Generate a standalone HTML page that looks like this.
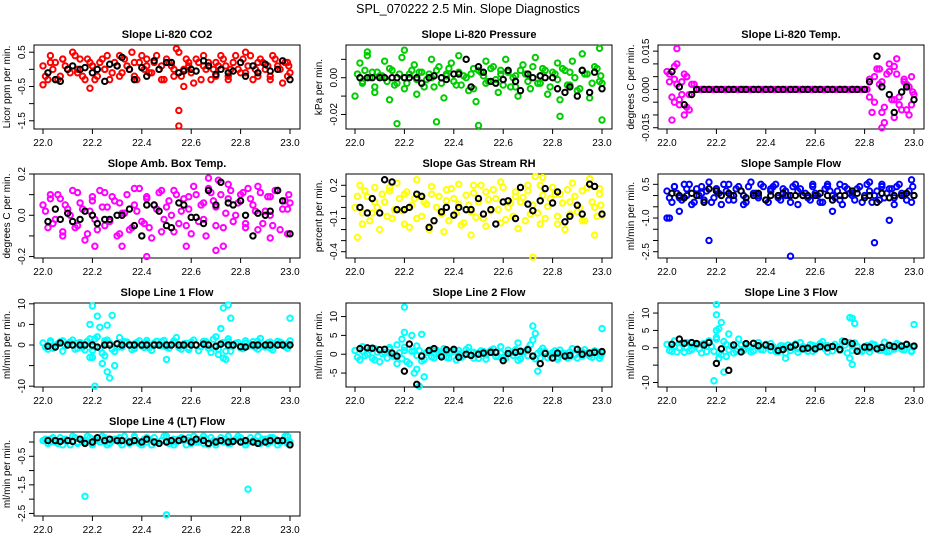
<!DOCTYPE html>
<html><head><meta charset="utf-8"><style>
html,body{margin:0;padding:0;background:#fff;}
svg{display:block;font-family:"Liberation Sans",Arial,sans-serif;}
</style></head><body>
<svg id="chart" width="936" height="540" viewBox="0 0 936 540" xmlns="http://www.w3.org/2000/svg">
<rect width="936" height="540" fill="#fff"/>
<text x="468" y="13" text-anchor="middle" font-size="12.5">SPL_070222  2.5 Min. Slope Diagnostics</text>
</svg>
<script>
const tC=[22.00,22.02,22.03,22.05,22.07,22.08,22.10,22.12,22.14,22.15,22.17,22.19,22.20,22.22,22.24,22.25,22.27,22.29,22.31,22.32,22.34,22.36,22.37,22.39,22.41,22.42,22.44,22.46,22.48,22.49,22.51,22.53,22.54,22.56,22.58,22.59,22.61,22.63,22.65,22.66,22.68,22.70,22.71,22.73,22.75,22.76,22.78,22.80,22.82,22.83,22.85,22.87,22.88,22.90,22.92,22.93,22.95,22.97,22.99,23.00];
const tC2=[22.01,22.03,22.04,22.06,22.08,22.09,22.11,22.13,22.14,22.16,22.18,22.20,22.21,22.23,22.25,22.26,22.28,22.30,22.31,22.33,22.35,22.37,22.38,22.40,22.42,22.43,22.45,22.47,22.48,22.50,22.52,22.53,22.55,22.57,22.59,22.60,22.62,22.64,22.65,22.67,22.69,22.70,22.72,22.74,22.75,22.77,22.79,22.81,22.82,22.84,22.86,22.87,22.89,22.91,22.92,22.94,22.96,22.98,22.99,22.995];
const tK=[22.02,22.05,22.07,22.10,22.12,22.15,22.17,22.20,22.22,22.25,22.27,22.30,22.32,22.35,22.37,22.40,22.42,22.45,22.47,22.50,22.52,22.55,22.57,22.60,22.62,22.65,22.67,22.70,22.72,22.75,22.77,22.80,22.82,22.85,22.87,22.90,22.92,22.95,22.97,23.00];
const xTicks=[22.0,22.2,22.4,22.6,22.8,23.0];

const co2C=[0.1,-0.3,0.4,0.2,-0.2,0.3,0.0,0.5,-0.1,0.3,-0.3,0.2,0.1,-0.2,0.3,0.0,-0.3,0.2,0.4,-0.1,0.1,0.5,-0.2,0.2,0.0,0.3,-0.1,0.4,0.1,-0.3,0.2,0.0,0.6,-0.2,0.3,0.1,-0.4,0.2,0.4,0.0,-0.3,0.2,0.1,0.3,-0.2,0.0,0.4,-0.1,0.5,0.1,-0.3,0.2,0.3,0.0,-0.2,0.4,0.1,-0.4,0.2,-0.1];
const co2C2=[-0.2,0.2,0.0,-0.3,0.3,0.1,-0.1,0.4,0.0,-0.2,0.3,0.1,-0.3,0.2,0.0,0.4,-0.1,0.1,-0.2,0.3,0.0,0.2,-0.3,0.4,0.1,-0.1,0.2,0.0,-0.3,0.3,0.1,-0.2,0.5,0.0,0.2,-0.1,0.3,-0.3,0.1,0.2,0.0,-0.2,0.4,0.1,-0.3,0.2,0.0,0.3,-0.1,0.4,0.0,-0.2,0.2,0.1,-0.3,0.3,0.0,0.2,-0.2,0.1];
const co2OutT=[22.55,22.55,22.00,22.19,22.57];
const co2OutV=[-1.2,-1.65,-0.45,-0.55,-0.5];
const co2K=[-0.1,-0.3,-0.35,0.0,0.1,0.0,0.05,-0.1,0.0,-0.35,0.15,0.1,0.35,0.0,-0.3,0.05,-0.2,0.25,0.0,0.2,0.2,-0.1,-0.05,0.0,-0.05,0.25,0.1,-0.15,0.0,-0.1,-0.05,0.2,-0.2,0.1,-0.1,0.15,-0.05,0.0,0.25,-0.3];

const presC=[-0.01,0.008,-0.002,0.012,0.003,-0.008,0.001,0.009,-0.012,0.004,-0.003,0.011,-0.006,0.002,0.007,-0.009,0.003,-0.001,0.010,-0.005,0.006,-0.011,0.002,0.008,-0.004,0.012,0.001,-0.007,0.005,-0.013,0.003,0.009,-0.002,0.006,-0.008,0.004,0.010,-0.005,0.001,-0.010,0.007,0.002,-0.006,0.011,-0.003,0.005,-0.009,0.003,0.008,-0.012,0.004,-0.004,0.009,-0.007,0.013,0.002,-0.011,0.006,0.016,-0.003];
const presC2=[0.002,-0.003,0.004,0.0,-0.005,0.003,0.001,-0.002,0.005,-0.004,0.002,0.0,-0.003,0.004,-0.001,0.003,-0.005,0.002,0.0,0.004,-0.003,0.001,0.005,-0.002,0.003,-0.004,0.0,0.002,-0.006,0.004,0.001,-0.003,0.005,-0.001,0.002,-0.004,0.003,0.0,-0.005,0.004,0.002,-0.002,0.006,-0.003,0.001,0.004,-0.005,0.002,-0.001,0.005,-0.004,0.003,0.0,-0.006,0.004,0.002,-0.003,0.005,-0.002,0.001];
const presOutT=[22.17,22.33,22.50,22.83,23.00,22.05,22.20];
const presOutV=[-0.025,-0.024,-0.026,-0.021,-0.023,0.014,0.015];
const presK=[0,0,0,0,0,0,0,0,0,0,-0.003,0,0.001,0,-0.001,0.002,0.002,0.01,-0.005,0.006,0.003,-0.002,-0.003,-0.001,0.004,-0.002,-0.007,0.002,0,0.001,0,0,-0.006,-0.008,-0.005,-0.01,0.004,-0.008,0.003,-0.006];

const tempC=[0.007,-0.012,0.004,-0.004,0.006,-0.007,0.002,0,0,0,0,0,0,0,0,0,0,0,0,0,0,0,0,0,0,0,0,0,0,0,0,0,0,0,0,0,0,0,0,0,0,0,0,0,0,0,0,0,0.004,-0.009,0.008,0.003,-0.013,0.01,-0.004,0.006,-0.008,0.002,-0.006,-0.002];
const tempC2=[0.003,-0.005,0.01,-0.002,0.005,-0.008,0.002,0,0,0,0,0,0,0,0,0,0,0,0,0,0,0,0,0,0,0,0,0,0,0,0,0,0,0,0,0,0,0,0,0,0,0,0,0,0,0,0,0,-0.003,0.005,0.002,-0.009,0.006,-0.004,0.009,-0.006,0.003,-0.01,0.005,-0.001];
const tempOutT=[22.01,22.02,22.03,22.04,22.05,22.06,22.07,22.08,22.09,22.84,22.86,22.88,22.90,22.92,22.93,22.94,22.96,22.97,22.98,22.87,22.04];
const tempOutV=[0.006,-0.003,0.009,0.002,-0.006,0.003,-0.01,0.005,-0.002,-0.005,0.008,-0.007,0.007,-0.011,0.012,-0.003,0.004,-0.008,0.001,-0.015,0.016];
const tempK=[0.007,0.001,-0.006,-0.002,0,0,0,0,0,0,0,0,0,0,0,0,0,0,0,0,0,0,0,0,0,0,0,0,0,0,0,0,0.003,0.013,0.001,-0.002,-0.009,-0.001,0.001,-0.004];

const ambC=[0.05,-0.06,0.1,-0.02,0.08,-0.1,0.03,0.12,-0.05,0.06,-0.12,0.02,0.09,-0.07,0.04,0.11,-0.03,0.07,-0.09,0.01,0.1,-0.06,0.05,0.13,-0.04,0.08,-0.11,0.03,0.12,-0.02,0.07,-0.08,0.1,0.02,-0.05,0.09,0.14,-0.03,0.06,-0.1,0.11,0.04,0.17,-0.06,0.08,0.12,0.0,0.1,-0.04,0.13,0.05,-0.07,0.11,0.02,0.09,-0.05,0.12,0.03,-0.09,0.06];
const ambC2=[0.02,0.08,-0.04,0.1,-0.08,0.05,0.0,-0.06,0.11,0.03,-0.09,0.07,-0.02,0.12,-0.05,0.04,0.09,-0.1,0.06,0.01,-0.07,0.13,0.02,-0.03,0.09,-0.06,0.05,0.11,-0.08,0.04,0.0,0.12,-0.04,0.08,0.03,-0.09,0.1,0.05,-0.02,0.13,0.07,-0.05,0.1,0.01,0.15,-0.03,0.06,0.11,-0.06,0.08,0.02,0.14,-0.04,0.09,0.0,0.12,-0.07,0.07,0.03,0.1];
const ambOutT=[22.42,22.21,22.32,22.58,22.7,22.73,22.92,22.67];
const ambOutV=[-0.2,-0.15,-0.15,-0.15,-0.17,-0.15,-0.11,0.18];
const ambK=[-0.03,0.03,-0.02,0.01,-0.03,-0.02,0.02,0.0,-0.04,-0.02,-0.02,0.0,0.0,0.03,-0.05,-0.1,0.05,0.05,0.02,-0.05,-0.06,0.06,0.05,-0.01,-0.01,-0.04,0.12,0.05,0.16,0.06,0.05,0.07,0.0,-0.1,0.01,0.0,0.02,0.12,0.07,-0.09];

const rhC=[0.0,0.2,-0.15,0.1,-0.05,0.18,-0.2,0.05,0.15,-0.1,0.22,-0.03,0.12,-0.18,0.08,0.25,-0.08,0.03,0.19,-0.12,0.1,-0.22,0.06,0.17,-0.05,0.21,-0.14,0.02,0.13,-0.09,0.2,-0.17,0.07,0.16,-0.02,0.23,-0.11,0.04,0.14,-0.19,0.09,0.2,-0.06,0.28,-0.15,0.11,0.01,0.18,-0.08,0.12,-0.2,0.05,0.22,-0.04,0.15,-0.12,0.26,0.0,0.17,-0.07];
const rhC2=[0.1,-0.05,0.15,-0.12,0.05,0.0,0.12,-0.08,0.18,-0.02,0.08,-0.15,0.14,0.02,-0.1,0.1,0.05,-0.2,0.12,0.0,-0.06,0.16,-0.12,0.08,0.03,-0.16,0.11,-0.04,0.2,0.05,-0.1,0.14,-0.03,0.08,-0.14,0.18,0.0,-0.08,0.1,0.05,-0.12,0.15,0.02,-0.05,0.2,-0.1,0.08,0.12,-0.15,0.04,0.16,-0.06,0.1,0.0,-0.12,0.18,0.05,-0.08,0.12,0.02];
const rhOutT=[22.01,22.72,22.47,22.97,22.76];
const rhOutV=[-0.27,-0.45,-0.25,-0.25,0.27];
const rhK=[0.0,-0.05,0.08,-0.05,0.25,0.23,-0.02,-0.02,0.0,0.12,0.1,-0.18,-0.12,-0.04,0.0,-0.07,0.0,-0.02,-0.02,0.08,-0.06,-0.02,-0.15,0.05,0.06,-0.1,0.18,0.03,-0.03,0.06,0.17,0.04,0.14,-0.13,-0.08,0.02,-0.06,0.21,0.19,-0.06];

const flowC=[0.2,-0.3,0.4,-0.1,0.5,0.0,-0.4,0.3,0.1,-0.2,0.6,-0.1,0.3,-0.4,0.2,0.5,-0.2,0.4,0.0,-0.3,0.6,0.1,-0.1,0.4,-0.3,0.3,0.5,-0.2,0.2,0.0,0.4,-0.4,0.3,0.1,-0.2,0.5,0.0,-0.3,0.4,0.2,-0.1,0.5,-0.4,0.3,0.1,-0.2,0.4,0.0,0.6,-0.3,0.2,0.5,-0.1,0.3,-0.4,0.4,0.1,-0.2,0.7,0.0];
const flowC2=[-0.1,0.4,0.1,-0.2,0.3,0.5,-0.3,0.0,0.4,0.2,-0.3,0.3,0.1,0.5,-0.2,0.0,0.3,0.2,-0.4,0.4,0.1,0.0,0.5,-0.2,0.2,0.4,-0.1,0.3,0.0,-0.3,0.5,0.2,0.0,-0.1,0.4,0.1,-0.3,0.3,0.5,0.0,0.2,-0.2,0.4,0.1,0.0,0.3,-0.3,0.5,0.2,0.0,-0.2,0.4,0.1,0.3,-0.1,0.5,0.0,0.2,-0.3,0.4];
const flowOutT=[22.0,22.01,22.05,22.17,22.84,22.9,22.5,22.67];
const flowOutV=[-1.0,-1.0,-0.7,-2.0,-2.1,-1.1,-2.7,-0.7];
const flowK=[0.1,0.0,-0.1,0.1,0.0,-0.3,0.3,0.2,0.0,0.1,0.0,0.2,-0.1,0.0,0.1,-0.2,0.0,0.0,0.1,0.0,0.0,0.0,0.0,0.0,0.1,0.0,-0.2,0.0,0.0,0.2,0.1,-0.1,0.0,-0.3,0.1,-0.1,0.0,0.0,0.1,0.0];

const l1C=[0.5,-1,1,-0.5,0.8,-1.5,0.3,1.2,-0.8,0.6,-1.2,1.5,-0.4,2,-2,1,0.4,-1.6,1.8,-0.5,0.7,-1.1,0.3,1,-0.6,0.5,-1.3,0.9,-0.2,1.1,-0.8,0.6,1.8,-1,0.4,-0.6,1.2,-1.4,0.2,0.8,-1.8,2,-1,0.6,1.5,-1.5,0.4,-0.7,1,-0.3,0.8,-1,1.6,-0.5,0.7,-1.2,0.9,0.3,-0.8,1];
const l1C2=[-0.5,0.6,-0.8,0.3,1,-0.2,0.7,-1,0.4,-0.6,0.9,-1.3,1.5,-0.8,0.5,1.2,-1,0.3,-0.5,0.8,0.1,-0.9,0.6,-0.3,1.1,-0.7,0.4,-0.1,0.8,-0.5,0.2,1,-0.6,0.3,-1.1,0.7,0,-0.4,0.9,-0.8,1.4,-0.5,0.3,-1.5,0.8,-0.2,0.6,-0.9,0.4,0.1,-0.6,0.9,-0.3,0.5,-0.8,0.2,0.7,-0.4,0.3,-0.1];
const l1OutT=[22.2,22.19,22.22,22.23,22.26,22.28,22.21,22.25,22.26,22.27,22.29,22.2,22.24,22.5,22.73,22.75,22.76,22.72,22.74,22.73,23.0,22.71,22.19];
const l1OutV=[9.5,5,7,4.3,4.8,7.2,-10,-2.6,-6.5,-8,-5,-3,-4.5,-3.5,9,9.7,6.5,4,-3.5,-3.2,6.5,-2.3,-3];
const l1K=[-0.3,-0.5,0.5,0,0,0,0,0,-0.5,0,0,0.3,0,0,0,0,0,0,0,0,0,0,0,0,0,0.2,0,-0.3,0.2,0,0,-0.4,-0.5,0,0,0,0,0,0,0];

const l2C=[1,-1.5,2,0,-1,1.5,-2,0.5,1.8,-0.5,2.5,-1.2,1,-2.5,0.8,2.2,-1.8,0.5,1.2,-1,0.3,1.5,-0.8,0.6,-1.5,1,-0.3,1.8,-1,0.2,0.9,-1.3,0.5,1.4,-0.6,2,-1.1,0.3,1.2,-1.6,0.6,-0.4,2.5,-1.2,0.8,1.6,-0.9,0.4,-1.3,1.1,0.2,-0.7,1.5,-1,0.6,1.2,-0.5,0.9,-1.1,0.4];
const l2C2=[-0.8,0.9,-0.4,1.2,-1.5,0.6,0.2,-1,1.3,-0.6,0.4,1.8,-2,0.8,-0.3,1,-1.4,0.5,-0.7,1.1,-0.2,0.6,-1,0.8,0.1,-0.8,1.2,-0.4,0.5,-1.1,0.7,-0.2,1,-0.6,0.3,-0.9,1.1,-0.3,0.6,-1.2,0.9,1.5,-0.6,0.2,-1,0.7,-0.4,0.9,-0.7,0.3,-1,0.6,-0.2,0.8,-0.5,0.2,-0.8,0.6,0.1,-0.4];
const l2OutT=[22.2,22.2,22.19,22.23,22.24,22.27,22.25,22.26,22.28,22.17,22.72,22.73,22.74,22.72,23,22.66];
const l2OutV=[12.5,5.8,4,5,-5,5.3,-4,-8.5,-6,-2.5,7.5,5.5,-4.5,3.8,6.8,3];
const l2K=[1.5,1.7,1.6,1.2,1.3,0.3,-0.5,-4.5,2.7,-8,-0.5,1,1.5,-0.7,1.2,1.3,-0.8,0,-0.3,0,0.3,0.5,0.5,-1.7,0.2,0.5,0.8,1.2,-0.5,-2.5,0.2,-1,0.3,-0.5,-0.3,1.3,0,0.3,0.5,0.7];

const l3C=[1,-1,2,0,-1.3,1.5,-0.5,0.8,-1.5,1.2,2,-1,3,-2,1,4,-1.5,2.5,-0.8,1,-1.2,0.5,1.5,-0.6,0.3,1.2,-1,0.6,-1.5,0.8,0.2,-1.3,1.5,-0.4,0.9,-1,0.5,1.8,-1.2,0.3,1,-0.8,2,-1.5,0.6,1.4,-0.9,0.4,-1.2,1.1,0.2,-0.7,1.6,-1,0.5,1.2,-0.4,0.9,-1.1,0.4];
const l3C2=[-0.8,0.5,-1.2,1.3,0,-0.9,0.7,-0.3,1,-1.1,0.4,2.5,-1.5,1.8,-0.6,0.5,-1,0.9,-0.4,0.6,-0.9,0.2,-0.5,1,-0.7,0.3,-1.2,0.5,0,-0.8,1.1,-0.3,0.4,-1,0.7,-0.5,1.2,-0.2,0.6,-0.9,0.3,-0.6,0.8,1.5,-0.8,0.4,-1,0.6,-0.3,0.9,-0.7,0.2,-1.1,0.5,-0.4,0.8,-0.6,0.3,-0.9,0.2];
const l3OutT=[22.2,22.2,22.22,22.21,22.19,22.23,22.24,22.74,22.75,22.76,22.75,22.74,23,22.48,22.21,22.2];
const l3OutV=[12.5,9.5,7.3,5.5,-9.5,-7,-2.5,8.7,8.5,7,-4.8,-3,6.7,-3,-3,5];
const l3K=[1,2.5,1.3,1.5,1.2,0.8,1.5,-4.5,-0.3,-6.5,0.8,-1.2,1.2,1.3,0.6,0.8,0.3,-0.8,-0.5,0.2,0.8,-0.3,-0.1,-0.3,0.3,0,0.4,-0.5,1.8,1.2,-1,0.2,0.2,-0.3,0.1,0.7,0.3,0.5,1,0.5];

const l4C=[0.05,-0.05,0.1,0,0.15,-0.1,0.05,0.2,-0.05,0.1,0,0.15,-0.1,0.05,0.2,0,-0.05,0.1,0.15,-0.1,0.05,0,0.2,-0.05,0.1,0.15,-0.1,0,0.05,0.2,-0.05,0.1,0,0.15,-0.1,0.05,0.2,0,-0.05,0.1,0.15,-0.1,0.05,0,0.2,-0.05,0.1,0.15,-0.1,0,0.05,0.2,-0.05,0.1,0,0.15,-0.1,0.05,0.2,0];
const l4C2=[0.1,0,0.15,-0.05,0.05,0.1,-0.1,0.15,0,0.05,0.2,-0.05,0.1,0,0.15,-0.1,0.05,0.1,0,0.2,-0.05,0.15,0.05,-0.1,0,0.1,0.15,-0.05,0.05,0.2,0,-0.1,0.1,0.05,0.15,-0.05,0,0.1,0.2,-0.1,0.05,0,0.15,0.1,-0.05,0.05,0.2,0,-0.1,0.15,0.05,0,0.1,-0.05,0.15,0.1,0,0.2,-0.05,0.05];
const l4OutT=[22.17,22.5,22.83];
const l4OutV=[-1.9,-2.55,-1.65];
const l4K=[0.05,0.05,0.02,0.05,0.02,0.1,-0.05,0.0,0.15,0.05,0.1,0.05,0.05,0.0,0.05,0.0,0.1,0.0,-0.05,0.0,0.05,0.05,0.1,0.0,0.1,0.05,-0.05,0.0,0.05,0.0,0.02,0.0,0.05,0.0,-0.05,0.0,0.05,0.05,0.05,-0.1];

const panels=[
 {name:'co2',title:'Slope Li-820 CO2',ylab:'Licor ppm per min.',col:0,row:0,ymin:-1.74,ymax:0.71,ticks:[-1.5,-1,-0.5,0,0.5],labels:['-1.5','','-0.5','','0.5'],color:'#ff0000',c:co2C,c2:co2C2,ot:co2OutT,ov:co2OutV,k:co2K},
 {name:'pressure',title:'Slope Li-820 Pressure',ylab:'kPa per min.',col:1,row:0,ymin:-0.0279,ymax:0.0178,ticks:[-0.02,-0.01,0,0.01],labels:['-0.02','','0.00',''],color:'#00cd00',c:presC,c2:presC2,ot:presOutT,ov:presOutV,k:presK},
 {name:'temp',title:'Slope Li-820 Temp.',ylab:'degrees C per min.',col:2,row:0,ymin:-0.0155,ymax:0.0174,ticks:[-0.015,-0.01,-0.005,0,0.005,0.01,0.015],labels:['-0.015','','','0.000','','','0.015'],color:'#ff00ff',c:tempC,c2:tempC2,ot:tempOutT,ov:tempOutV,k:tempK},
 {name:'amb-box-temp',title:'Slope Amb. Box Temp.',ylab:'degrees C per min.',col:0,row:1,ymin:-0.207,ymax:0.2,ticks:[-0.2,-0.1,0,0.1,0.2],labels:['-0.2','','0.0','','0.2'],color:'#ff00ff',c:ambC,c2:ambC2,ot:ambOutT,ov:ambOutV,k:ambK},
 {name:'gas-stream-rh',title:'Slope Gas Stream RH',ylab:'percent per min.',col:1,row:1,ymin:-0.457,ymax:0.302,ticks:[-0.4,-0.3,-0.2,-0.1,0,0.1,0.2],labels:['-0.4','','','-0.1','','','0.2'],color:'#ffff00',c:rhC,c2:rhC2,ot:rhOutT,ov:rhOutV,k:rhK},
 {name:'sample-flow',title:'Slope Sample Flow',ylab:'ml/min per min.',col:2,row:1,ymin:-2.78,ymax:0.96,ticks:[-2.5,-2,-1.5,-1,-0.5,0,0.5],labels:['-2.5','','','-1.0','','','0.5'],color:'#0000ff',c:flowC,c2:flowC2,ot:flowOutT,ov:flowOutV,k:flowK},
 {name:'line1-flow',title:'Slope Line 1 Flow',ylab:'ml/min per min.',col:0,row:2,ymin:-10.2,ymax:10.2,ticks:[-10,-5,0,5,10],labels:['-10','','0','5','10'],color:'#00ffff',c:l1C,c2:l1C2,ot:l1OutT,ov:l1OutV,k:l1K},
 {name:'line2-flow',title:'Slope Line 2 Flow',ylab:'ml/min per min.',col:1,row:2,ymin:-8.7,ymax:13.6,ticks:[-5,0,5,10],labels:['-5','0','5','10'],color:'#00ffff',c:l2C,c2:l2C2,ot:l2OutT,ov:l2OutV,k:l2K},
 {name:'line3-flow',title:'Slope Line 3 Flow',ylab:'ml/min per min.',col:2,row:2,ymin:-11.3,ymax:12.9,ticks:[-10,-5,0,5,10],labels:['-10','','0','5','10'],color:'#00ffff',c:l3C,c2:l3C2,ot:l3OutT,ov:l3OutV,k:l3K},
 {name:'line4-flow',title:'Slope Line 4 (LT) Flow',ylab:'ml/min per min.',col:0,row:3,ymin:-2.59,ymax:0.35,ticks:[-2.5,-2,-1.5,-1,-0.5,0],labels:['-2.5','','-1.5','','-0.5',''],color:'#00ffff',c:l4C,c2:l4C2,ot:l4OutT,ov:l4OutV,k:l4K}
];

const NS='http://www.w3.org/2000/svg';
const svg=document.getElementById('chart');
const boxL=[34,346,658], boxR=[300,612,924], boxT=[45,174,303,432], boxH=84;
function mk(tag,attrs,parent){const e=document.createElementNS(NS,tag);for(const k in attrs)e.setAttribute(k,attrs[k]);parent.appendChild(e);return e;}

panels.forEach(p=>{
  const L=boxL[p.col],R=boxR[p.col],T=boxT[p.row],B=T+boxH;
  const x0=L+9,x1=R-10;
  const xs=v=>x0+(v-22)*(x1-x0);
  const ys=v=>B-(v-p.ymin)/(p.ymax-p.ymin)*(B-T);
  const g=mk('g',{},svg);
  
  
  const title=mk('text',{x:(L+R)/2,y:T-7,'text-anchor':'middle','font-size':'11','font-weight':'bold'},g);
  title.textContent=p.title;
  
  
  const box=mk('rect',{x:L,y:T,width:R-L,height:boxH,fill:'none',stroke:'#000','stroke-width':1},g);
  
  
  const xa=mk('g',{},g);
  
  
  xTicks.forEach(t=>{
    mk('line',{x1:xs(t),x2:xs(t),y1:B,y2:B+5,stroke:'#000'},xa);
    const tx=mk('text',{x:xs(t),y:B+17,'text-anchor':'middle','font-size':'10'},xa);
    tx.textContent=t.toFixed(1);
    
    
  });
  const ya=mk('g',{},g);
  
  
  p.ticks.forEach((t,i)=>{
    const y=ys(t);
    mk('line',{x1:L-5,x2:L,y1:y,y2:y,stroke:'#000'},ya);
    if(p.labels[i]){
      const tx=mk('text',{x:L-9,y:y,'text-anchor':'middle','font-size':'10',transform:`rotate(-90 ${L-9} ${y})`},ya);
      tx.textContent=p.labels[i];
      
      
    }
  });
  const yl=mk('text',{x:L-24,y:(T+B)/2,'text-anchor':'middle','font-size':'10',transform:`rotate(-90 ${L-24} ${(T+B)/2})`},g);
  yl.textContent=p.ylab;
  
  
  const cg=mk('g',{fill:'none',stroke:p.color,'stroke-width':2},g);
  
  
  p.c.forEach((v,i)=>{
    const c=mk('circle',{cx:xs(tC[i]),cy:ys(v),r:2.7},cg);
    
    
  });
  p.c2.forEach((v,i)=>{
    const c=mk('circle',{cx:xs(tC2[i]),cy:ys(v),r:2.7},cg);
    
    
  });
  p.ot.forEach((t,i)=>{
    const c=mk('circle',{cx:xs(t),cy:ys(p.ov[i]),r:2.7},cg);
    
    
  });
  const kg=mk('g',{fill:'none',stroke:'#000','stroke-width':2},g);
  
  
  p.k.forEach((v,i)=>{
    const c=mk('circle',{cx:xs(tK[i]),cy:ys(v),r:2.7},kg);
    
    
  });
});
</script>
</body></html>
